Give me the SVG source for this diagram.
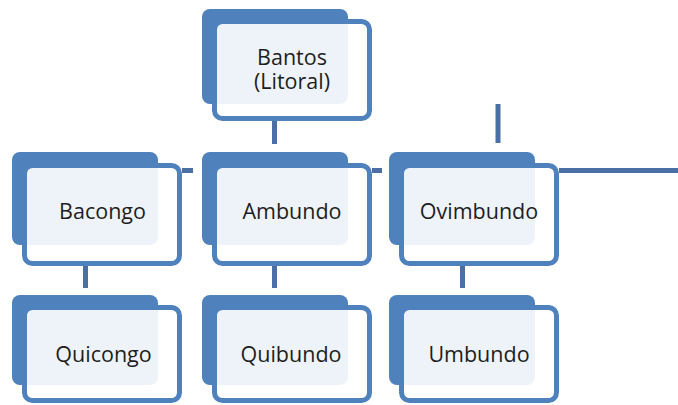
<svg xmlns="http://www.w3.org/2000/svg" width="678" height="405" viewBox="0 0 678 405">
<style>
.back{fill:#4f81bd}
.front{fill:#ffffff;fill-opacity:0.9;stroke:#4f81bd;stroke-width:5}
.lbl{font-family:"Open Sans","Liberation Sans",sans-serif;font-size:21.5px;fill:#1e1e1e;text-anchor:middle}
#connectors line{stroke:#4a6fa5;stroke-width:5}
</style>
<rect width="678" height="405" fill="#ffffff"/>
<g id="connectors">
<line x1="274.5" y1="121" x2="274.5" y2="144"/>
<line x1="498" y1="104" x2="498" y2="143"/>
<line x1="182" y1="170.5" x2="193" y2="170.5"/>
<line x1="372" y1="170.5" x2="382" y2="170.5"/>
<line x1="559" y1="170.5" x2="678" y2="170.5"/>
<line x1="85.5" y1="266" x2="85.5" y2="288"/>
<line x1="274.5" y1="266" x2="274.5" y2="288"/>
<line x1="462.5" y1="266" x2="462.5" y2="288"/>
</g>
<g id="bantos">
<rect class="back" x="202" y="9" width="146" height="95" rx="8"/>
<rect class="front" x="214.5" y="21.5" width="155" height="97" rx="8"/>
<text class="lbl" x="292" y="65">Bantos</text>
<text class="lbl" x="292" y="89">(Litoral)</text>
</g>
<g id="bacongo">
<rect class="back" x="12" y="152" width="146" height="93" rx="8"/>
<rect class="front" x="24.5" y="165.5" width="155" height="98" rx="8"/>
<text class="lbl" x="102.5" y="219">Bacongo</text>
</g>
<g id="ambundo">
<rect class="back" x="202" y="152" width="146" height="93" rx="8"/>
<rect class="front" x="214.5" y="165.5" width="155" height="98" rx="8"/>
<text class="lbl" x="292" y="219">Ambundo</text>
</g>
<g id="ovimbundo">
<rect class="back" x="389" y="152" width="146" height="93" rx="8"/>
<rect class="front" x="401.5" y="165.5" width="155" height="98" rx="8"/>
<text class="lbl" x="479" y="219">Ovimbundo</text>
</g>
<g id="quicongo">
<rect class="back" x="12" y="295" width="146" height="90" rx="8"/>
<rect class="front" x="24.5" y="307.5" width="155" height="93" rx="8"/>
<text class="lbl" x="103.5" y="362">Quicongo</text>
</g>
<g id="quibundo">
<rect class="back" x="202" y="295" width="146" height="90" rx="8"/>
<rect class="front" x="214.5" y="307.5" width="155" height="93" rx="8"/>
<text class="lbl" x="291" y="362">Quibundo</text>
</g>
<g id="umbundo">
<rect class="back" x="389" y="295" width="146" height="90" rx="8"/>
<rect class="front" x="401.5" y="307.5" width="155" height="93" rx="8"/>
<text class="lbl" x="479" y="362">Umbundo</text>
</g>
</svg>
